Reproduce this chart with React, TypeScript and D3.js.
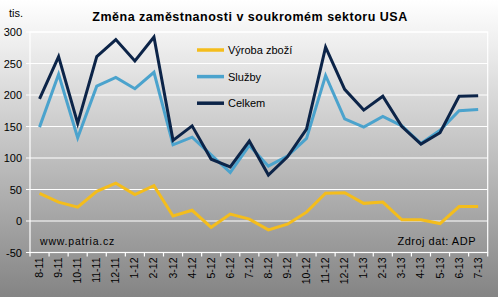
import React from "react";
import * as d3 from "d3";

const categories = ["8-11","9-11","10-11","11-11","12-11","1-12","2-12","3-12","4-12","5-12","6-12","7-12","8-12","9-12","10-12","11-12","12-12","1-13","2-13","3-13","4-13","5-13","6-13","7-13"];
const vyroba = [44,30,22,47,60,42,56,8,17,-10,11,3,-14,-5,14,44,45,28,30,2,2,-4,23,23];
const sluzby = [149,233,132,214,228,210,236,121,133,105,77,120,87,103,131,231,162,149,166,151,123,144,175,177];
const celkem = [194,261,155,261,288,254,292,128,151,98,86,127,73,102,146,276,209,176,198,150,122,140,198,199];
const yTicks = [-50,0,50,100,150,200,250,300];

const seriesList = [
  { name: "Výroba zboží", values: vyroba, color: "#F4BD1C" },
  { name: "Služby", values: sluzby, color: "#4BA3CD" },
  { name: "Celkem", values: celkem, color: "#0C2448" },
];

export default function App() {
  const W = 498, H = 297;
  const left = 30, right = 487.7, top = 32, bottom = 252.5;
  const x = d3.scaleBand<string>().domain(categories).range([left, right]).padding(0);
  const y = d3.scaleLinear().domain([-50, 300]).range([bottom, top]);
  const cx = (c: string) => (x(c) as number) + x.bandwidth() / 2;
  const font = "'Liberation Sans', Arial, sans-serif";
  const line = (vals: number[]) =>
    d3.line<number>().x((_, i) => cx(categories[i])).y((v) => y(v))(vals) as string;

  return (
    <svg width={W} height={H} style={{ position: "fixed", left: 0, top: 0 }} fontFamily={font}>
      <defs>
        <linearGradient id="bg" x1="0" y1="0" x2="0" y2="1">
          <stop offset="0" stopColor="#ffffff" />
          <stop offset="0.15" stopColor="#eeeeee" />
          <stop offset="1" stopColor="#848484" />
        </linearGradient>
      </defs>
      <rect x={0} y={0} width={W} height={H} fill="url(#bg)" />
      {yTicks.map((t) => (
        <g key={t}>
          <line x1={left - 4} x2={right} y1={y(t)} y2={y(t)} stroke="#ffffff" strokeWidth={1.2} />
          <text x={22} y={y(t) + 4} textAnchor="end" fontSize={11} fill="#000">{t}</text>
        </g>
      ))}
      <rect x={left} y={top} width={right - left} height={bottom - top} fill="none" stroke="#ffffff" strokeWidth={1.2} />
      {categories.map((c) => (
        <line key={"t" + c} x1={x(c) as number} x2={x(c) as number} y1={bottom} y2={bottom + 4} stroke="#fff" strokeWidth={1.2} />
      ))}
      <line x1={right} x2={right} y1={bottom} y2={bottom + 4} stroke="#fff" strokeWidth={1.2} />
      {categories.map((c) => (
        <text key={"l" + c} transform={`translate(${cx(c) + 3.5},${257.5}) rotate(-90)`} textAnchor="end" fontSize={10.5} fill="#000">{c}</text>
      ))}
      {seriesList.map((s) => (
        <path key={s.name} d={line(s.values)} fill="none" stroke={s.color} strokeWidth={3} strokeLinejoin="miter" />
      ))}
      {seriesList.map((s, i) => (
        <g key={"lg" + s.name}>
          <line x1={197} x2={224} y1={50 + i * 26.6} y2={50 + i * 26.6} stroke={s.color} strokeWidth={3.5} />
          <text x={228} y={50 + i * 26.6 + 4} fontSize={11} fill="#000">{s.name}</text>
        </g>
      ))}
      <text x={250} y={21} textAnchor="middle" fontSize={12.5} fontWeight="bold" letterSpacing={0.5} fill="#000">Změna zaměstnanosti v soukromém sektoru USA</text>
      <text x={9} y={17} fontSize={11} fill="#000">tis.</text>
      <text x={40} y={245} fontSize={10.5} fill="#000" letterSpacing={0.8}>www.patria.cz</text>
      <text x={476} y={245} textAnchor="end" fontSize={11} fill="#000" letterSpacing={0.5}>Zdroj dat: ADP</text>
    </svg>
  );
}
